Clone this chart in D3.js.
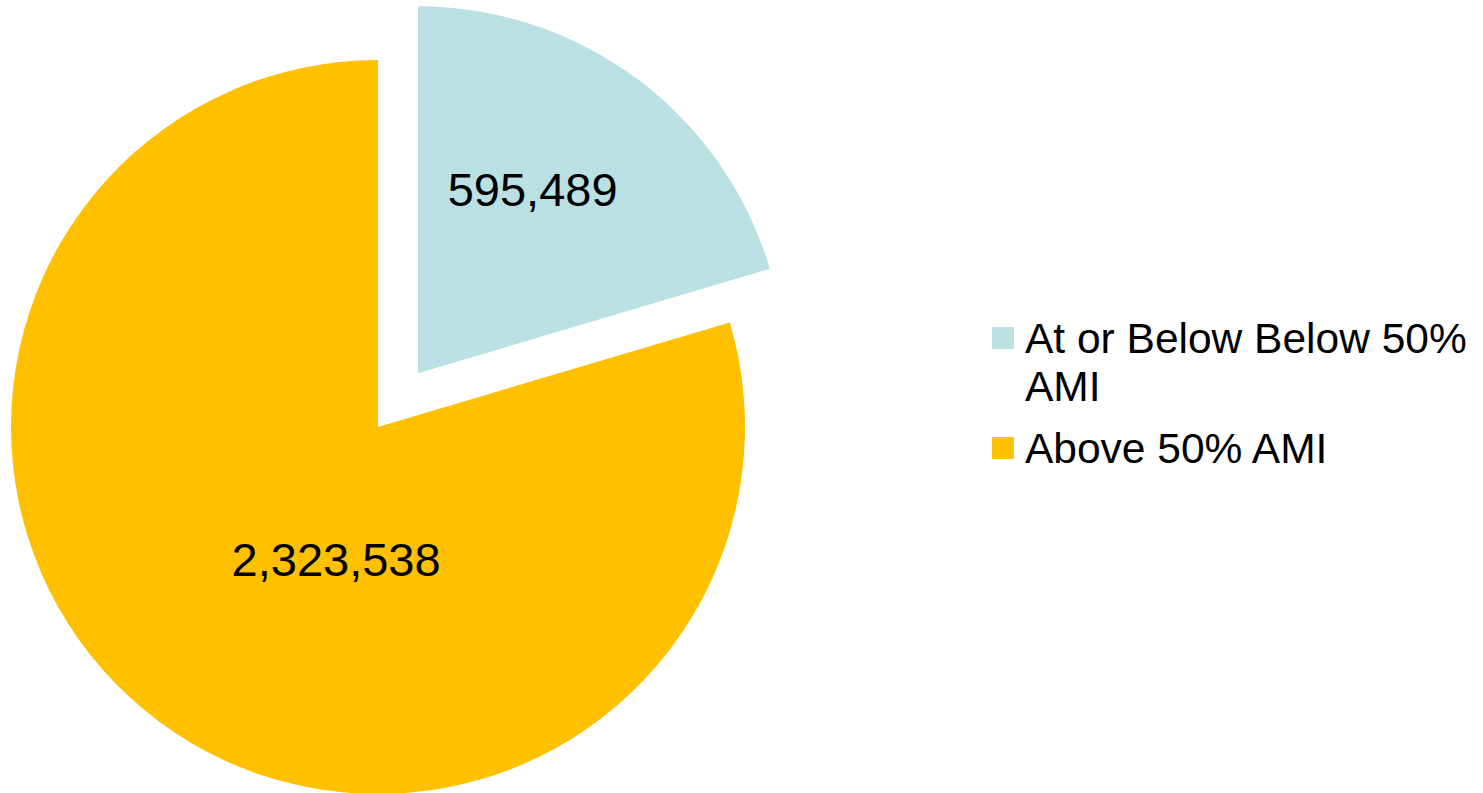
<!DOCTYPE html>
<html><head><meta charset="utf-8">
<script src="https://cdn.jsdelivr.net/npm/d3@7"></script>
<style>html,body{margin:0;padding:0;background:#fff;}svg{display:block;}</style>
</head><body>
<svg id="chart" width="1483" height="793"></svg>
<script>
const categories = ["At or Below Below 50% AMI", "Above 50% AMI"];
const values = [595489, 2323538];
const colors = ["#BBE0E3", "#FFC000"];
const labels = ["595,489", "2,323,538"];

const svg = d3.select("#chart");
const cx = 378, cy = 427, R = 367;
const explode = [67, 0];

const pie = d3.pie().sort(null).value(d => d)(values);
const arc = d3.arc().innerRadius(0).outerRadius(R);
const g = svg.append("g").attr("transform", `translate(${cx},${cy})`);

pie.forEach((p, i) => {
  const mid = (p.startAngle + p.endAngle) / 2;
  const ox = Math.sin(mid) * explode[i], oy = -Math.cos(mid) * explode[i];
  g.append("path").attr("d", arc(p)).attr("fill", colors[i])
    .attr("transform", `translate(${ox},${oy})`);
});

// data labels
const labelR = [215, 142];
const labelNudge = [[-14, -11], [43, 19]];
pie.forEach((p, i) => {
  const mid = (p.startAngle + p.endAngle) / 2;
  const ox = Math.sin(mid) * explode[i], oy = -Math.cos(mid) * explode[i];
  const lx = ox + Math.sin(mid) * labelR[i] + labelNudge[i][0];
  const ly = oy - Math.cos(mid) * labelR[i] + labelNudge[i][1];
  g.append("text").attr("x", lx).attr("y", ly + 16)
    .attr("text-anchor", "middle")
    .attr("font-family", "Liberation Sans, Arial, sans-serif")
    .attr("font-size", 47).attr("fill", "#000")
    .text(labels[i]);
});

// legend
const legend = svg.append("g");
const legendLines = [["At or Below Below 50%", "AMI"], ["Above 50% AMI"]];
const legendTop = [327, 437];
legendLines.forEach((lines, i) => {
  legend.append("rect").attr("x", 992).attr("y", legendTop[i])
    .attr("width", 22).attr("height", 22).attr("fill", colors[i]);
  lines.forEach((t, j) => {
    legend.append("text").attr("x", 1025).attr("y", legendTop[i] + 26 + j * 48)
      .attr("font-family", "Liberation Sans, Arial, sans-serif")
      .attr("font-size", 42.5).attr("fill", "#000").text(t);
  });
});
</script>
</body></html>
